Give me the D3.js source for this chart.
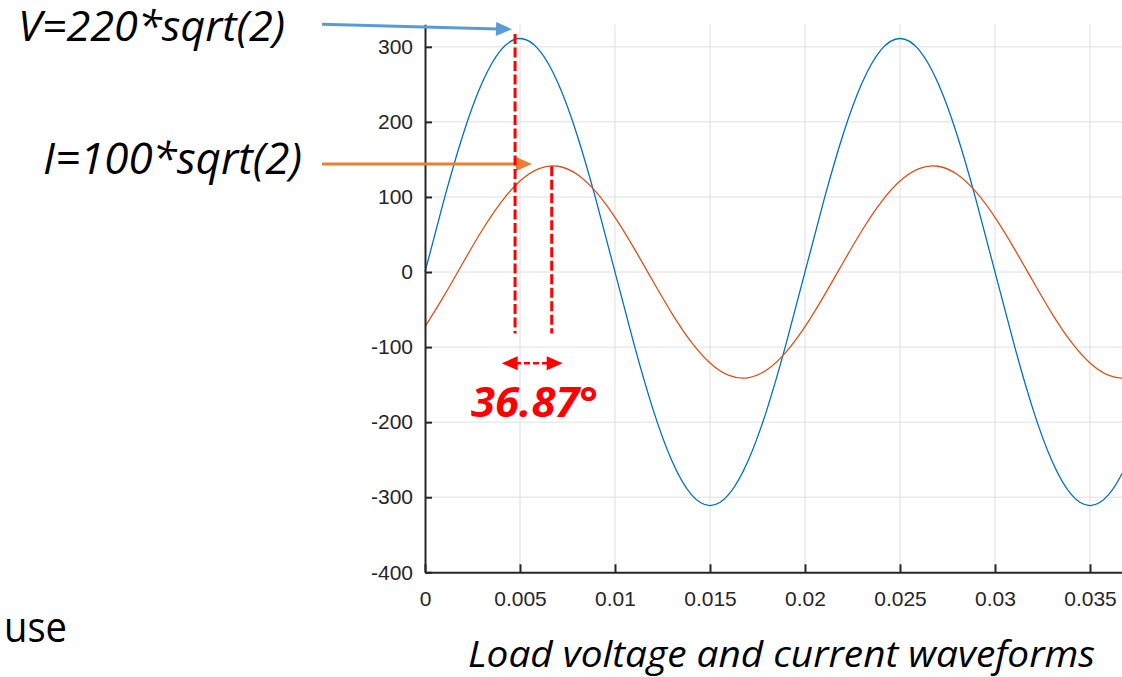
<!DOCTYPE html>
<html>
<head>
<meta charset="utf-8">
<script src="https://cdn.jsdelivr.net/npm/d3@7"></script>
<style>
	html, body { margin: 0; padding: 0; background: #fff; }
	svg { display: block; }
</style>
</head>
<body>
<svg id="main"></svg>
<script>
// samples, one every millisecond
var time = [0, 0.001, 0.002, 0.003, 0.004, 0.005, 0.006, 0.007, 0.008, 0.009,
	0.010, 0.011, 0.012, 0.013, 0.014, 0.015, 0.016, 0.017, 0.018, 0.019,
	0.020, 0.021, 0.022, 0.023, 0.024, 0.025, 0.026, 0.027, 0.028, 0.029,
	0.030, 0.031, 0.032, 0.033, 0.034, 0.035, 0.036, 0.037, 0.038, 0.039, 0.040];
var voltage = [0, 96.1, 182.9, 251.7, 295.9, 311.1, 295.9, 251.7, 182.9, 96.1,
	0, -96.1, -182.9, -251.7, -295.9, -311.1, -295.9, -251.7, -182.9, -96.1,
	0, 96.1, 182.9, 251.7, 295.9, 311.1, 295.9, 251.7, 182.9, 96.1,
	0, -96.1, -182.9, -251.7, -295.9, -311.1, -295.9, -251.7, -182.9, -96.1, 0];
var current = [-72.8, -31.8, 12.3, 55.3, 92.8, 121.2, 137.8, 140.9, 130.2, 106.7,
	72.8, 31.8, -12.3, -55.3, -92.8, -121.2, -137.8, -140.9, -130.2, -106.7,
	-72.8, -31.8, 12.3, 55.3, 92.8, 121.2, 137.8, 140.9, 130.2, 106.7,
	72.8, 31.8, -12.3, -55.3, -92.8, -121.2, -137.8, -140.9, -130.2, -106.7, -72.8];
var xTicks = [0, 0.005, 0.01, 0.015, 0.02, 0.025, 0.03, 0.035];
var yTicks = [-400, -300, -200, -100, 0, 100, 200, 300];
var peakV = 0.00474, peakI = 0.00667; // where the red markers sit

var width = 1122, height = 677;
var svg = d3.select('#main').attr('width', width).attr('height', height);
svg.append('rect').attr('width', width).attr('height', height).attr('fill', '#fff');

// x runs past the right edge of the picture, as in the crop
var x = d3.scaleLinear().domain([0, 0.04]).range([425, 1185]);
var y = d3.scaleLinear().domain([-400, 330]).range([572.3, 24.3]);
var fmt = d => String(+d.toFixed(3));
var tickFont = '"Liberation Sans", Arial, sans-serif';
var noteFont = '"Open Sans", sans-serif';

// grid
var grid = svg.append('g').attr('stroke', '#dfdfdf').attr('stroke-width', 1);
grid.selectAll('.gx').data(xTicks.slice(1)).join('line')
	.attr('x1', d => x(d)).attr('x2', d => x(d))
	.attr('y1', y.range()[1]).attr('y2', y.range()[0]);
grid.selectAll('.gy').data(yTicks.slice(1)).join('line')
	.attr('x1', x.range()[0]).attr('x2', x.range()[1])
	.attr('y1', d => y(d)).attr('y2', d => y(d));

// waveforms
var pts = vals => time.map((t, i) => [t, vals[i]]);
var line = d3.line().x(d => x(d[0])).y(d => y(d[1])).curve(d3.curveNatural);
[[voltage, '#0072BD'], [current, '#D95319']].forEach(([vals, color]) => {
	svg.append('path')
		.attr('d', line(pts(vals)))
		.attr('fill', 'none')
		.attr('stroke', color)
		.attr('stroke-width', 1.3);
});

// axes, MATLAB style: ticks pointing in
var styleAxis = g => {
	g.select('.domain').attr('stroke', '#262626').attr('stroke-width', 2);
	g.selectAll('.tick line').attr('stroke', '#262626').attr('stroke-width', 2);
	g.selectAll('.tick text').attr('fill', '#262626')
		.style('font-family', tickFont).style('font-size', '21px');
};
svg.append('g').attr('transform', `translate(0,${y(-400)})`)
	.call(d3.axisBottom(x).tickValues(xTicks).tickFormat(fmt)
		.tickSizeInner(-8).tickSizeOuter(0).tickPadding(19))
	.call(styleAxis);
svg.append('g').attr('transform', `translate(${x(0)},0)`)
	.call(d3.axisLeft(y).tickValues(yTicks).tickFormat(fmt)
		.tickSizeInner(-7).tickSizeOuter(0).tickPadding(12))
	.call(styleAxis);

// annotations
function arrowHead(g, tipX, tipY, angle, color, len=16, half=7) {
	var c = Math.cos(angle), s = Math.sin(angle);
	var bx = tipX - len*c, by = tipY - len*s;
	g.append('path')
		.attr('d', `M${tipX},${tipY}L${bx - half*s},${by + half*c}L${bx + half*s},${by - half*c}Z`)
		.attr('fill', color);
}
function arrow(g, x1, y1, x2, y2, color) {
	var a = Math.atan2(y2-y1, x2-x1);
	g.append('line')
		.attr('x1', x1).attr('y1', y1)
		.attr('x2', x2 - 14*Math.cos(a)).attr('y2', y2 - 14*Math.sin(a))
		.attr('stroke', color).attr('stroke-width', 3);
	arrowHead(g, x2, y2, a, color);
}
var notes = svg.append('g');
arrow(notes, 322, 24.3, 512, 29.3, '#5B9BD5');
arrow(notes, 322, 164, 532, 164, '#ED7D31');

notes.append('line')
	.attr('x1', x(peakV)).attr('x2', x(peakV))
	.attr('y1', y(317)).attr('y2', y(-82))
	.attr('stroke', '#ff0000').attr('stroke-width', 3).attr('stroke-dasharray', '10,3.5');
notes.append('line')
	.attr('x1', x(peakI)).attr('x2', x(peakI))
	.attr('y1', y(141)).attr('y2', y(-82))
	.attr('stroke', '#ff0000').attr('stroke-width', 3).attr('stroke-dasharray', '10,3.5');
notes.append('line')
	.attr('x1', 515).attr('x2', 549).attr('y1', 363.3).attr('y2', 363.3)
	.attr('stroke', '#ff0000').attr('stroke-width', 2.5).attr('stroke-dasharray', '6,3');
arrowHead(notes, 501.7, 363.3, Math.PI, '#ff0000', 16, 7);
arrowHead(notes, 562.7, 363.3, 0, '#ff0000', 16, 7);

var label = (txt, px, py, size, len, opts={}) => notes.append('text')
	.attr('x', px).attr('y', py)
	.attr('textLength', len).attr('lengthAdjust', 'spacingAndGlyphs')
	.style('font-family', noteFont).style('font-size', size + 'px')
	.style('font-style', opts.italic === false ? 'normal' : 'italic')
	.style('font-weight', opts.bold ? 'bold' : 'normal')
	.attr('fill', opts.color || '#000')
	.text(txt);

label('V=220*sqrt(2)', 18, 41, 42, 267);
label('I=100*sqrt(2)', 43, 174, 43, 259);
label('36.87°', 471, 417, 42, 127, {bold: true, color: '#ff0000'});
label('use', 4, 642, 42, 63, {italic: false});
label('Load voltage and current waveforms', 468, 667, 37, 627);
</script>
</body>
</html>
